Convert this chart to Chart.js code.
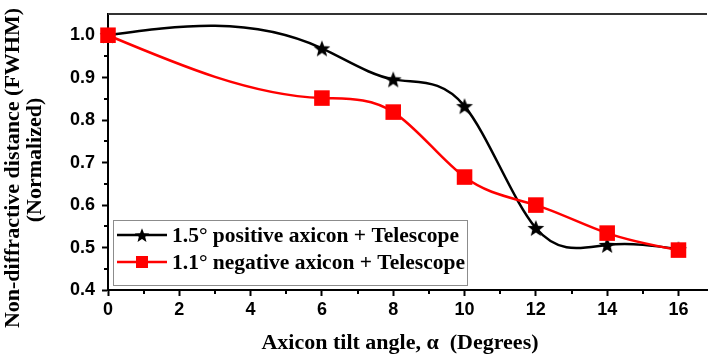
<!DOCTYPE html>
<html>
<head>
<meta charset="utf-8">
<script src="https://cdn.jsdelivr.net/npm/chart.js@4.4.1/dist/chart.umd.min.js"></script>
<style>
body { margin: 0; background: #fff; }
</style>
</head>
<body>
<canvas id="chart" width="718" height="360"></canvas>
<script>
// tilt angle (degrees) vs normalized non-diffractive distance
const tiltAngles = [0, 6, 8, 10, 12, 14, 16];
const positiveAxicon = [1.0, 0.969, 0.896, 0.833, 0.546, 0.506, 0.496];
const negativeAxicon = [1.0, 0.852, 0.819, 0.666, 0.600, 0.534, 0.494];
const seriesLabels = ['1.5° positive axicon + Telescope', '1.1° negative axicon + Telescope'];

const xTicks = [0, 2, 4, 6, 8, 10, 12, 14, 16];
const xMinorTicks = [1, 3, 5, 7, 9, 11, 13, 15];
const yTicks = [0.4, 0.5, 0.6, 0.7, 0.8, 0.9, 1.0];
const yMinorTicks = [0.45, 0.55, 0.65, 0.75, 0.85, 0.95];

const xTitle = 'Axicon tilt angle, \u03b1  (Degrees)';
const yTitle = ['Non-diffractive distance (FWHM)', '(Normalized)'];

const serif = "'Liberation Serif', 'Times New Roman', serif";
const sans = "'Liberation Sans', Arial, sans-serif";

// filled five-point star used as point style
function makeStar(size, outer, inner) {
    const c = document.createElement('canvas');
    c.width = size;
    c.height = size;
    const g = c.getContext('2d');
    g.beginPath();
    for (let i = 0; i < 10; i++) {
        const r = i % 2 ? inner : outer;
        const a = -Math.PI / 2 + i * Math.PI / 5;
        const px = size / 2 + r * Math.cos(a);
        const py = size / 2 + 0.8 + r * Math.sin(a);
        if (i) g.lineTo(px, py); else g.moveTo(px, py);
    }
    g.closePath();
    g.fillStyle = '#000';
    g.fill();
    return c;
}
const star = makeStar(20, 8.8, 3.8);
const smallStar = makeStar(18, 7.6, 3.3);

// natural cubic spline: slope at every knot
function splineSlopes(xs, ys) {
    const n = xs.length - 1;
    const h = [], d = [];
    for (let i = 0; i < n; i++) {
        h.push(xs[i + 1] - xs[i]);
        d.push((ys[i + 1] - ys[i]) / h[i]);
    }
    const m = new Array(n + 1).fill(0);
    const a = [], b = [], c = [], r = [];
    for (let i = 1; i < n; i++) {
        a.push(h[i - 1]);
        b.push(2 * (h[i - 1] + h[i]));
        c.push(h[i]);
        r.push(6 * (d[i] - d[i - 1]));
    }
    const k = b.length;
    for (let i = 1; i < k; i++) {
        const w = a[i] / b[i - 1];
        b[i] -= w * c[i - 1];
        r[i] -= w * r[i - 1];
    }
    for (let i = k - 1; i >= 0; i--) {
        m[i + 1] = (r[i] - c[i] * m[i + 2]) / b[i];
    }
    const s = [];
    for (let i = 0; i < n; i++) s.push(d[i] - h[i] * (2 * m[i] + m[i + 1]) / 6);
    s.push(d[n - 1] + h[n - 1] * (m[n - 1] + 2 * m[n]) / 6);
    return s;
}

const splineLines = {
    id: 'splineLines',
    beforeDatasetsDraw(chart) {
        const { ctx, scales: { x, y } } = chart;
        ctx.save();
        chart.data.datasets.forEach(ds => {
            const xs = ds.data.map(p => p.x);
            const ys = ds.data.map(p => p.y);
            const s = splineSlopes(xs, ys);
            ctx.beginPath();
            ctx.moveTo(x.getPixelForValue(xs[0]), y.getPixelForValue(ys[0]));
            for (let i = 0; i < xs.length - 1; i++) {
                const t = (xs[i + 1] - xs[i]) / 3;
                ctx.bezierCurveTo(
                    x.getPixelForValue(xs[i] + t), y.getPixelForValue(ys[i] + t * s[i]),
                    x.getPixelForValue(xs[i + 1] - t), y.getPixelForValue(ys[i + 1] - t * s[i + 1]),
                    x.getPixelForValue(xs[i + 1]), y.getPixelForValue(ys[i + 1]));
            }
            ctx.strokeStyle = ds.borderColor;
            ctx.lineWidth = 2.5;
            ctx.lineJoin = 'round';
            ctx.stroke();
        });
        ctx.restore();
    }
};

const frameAndTitles = {
    id: 'frameAndTitles',
    afterDraw(chart) {
        const { ctx, chartArea: area, scales: { x, y } } = chart;
        ctx.save();

        // top frame line
        ctx.strokeStyle = '#333';
        ctx.lineWidth = 2;
        ctx.beginPath();
        ctx.moveTo(area.left, area.top);
        ctx.lineTo(area.right, area.top);
        ctx.stroke();

        // minor ticks
        ctx.strokeStyle = '#000';
        ctx.beginPath();
        xMinorTicks.forEach(v => {
            const px = Math.round(x.getPixelForValue(v));
            ctx.moveTo(px, area.bottom);
            ctx.lineTo(px, area.bottom + 4);
        });
        yMinorTicks.forEach(v => {
            const py = Math.round(y.getPixelForValue(v));
            ctx.moveTo(area.left, py);
            ctx.lineTo(area.left - 4, py);
        });
        ctx.stroke();

        // axis titles
        ctx.fillStyle = '#000';
        ctx.font = 'bold 22px ' + serif;
        ctx.textAlign = 'center';
        ctx.textBaseline = 'middle';
        ctx.fillText(xTitle, 400, 343);
        ctx.save();
        ctx.translate(13, 168);
        ctx.rotate(-Math.PI / 2);
        ctx.fillText(yTitle[0], 0, 0);
        ctx.restore();
        ctx.save();
        ctx.translate(35, 160);
        ctx.rotate(-Math.PI / 2);
        ctx.fillText(yTitle[1], 0, 0);
        ctx.restore();

        // legend box
        const bx = 113, by = 220, bw = 354, bh = 65;
        ctx.fillStyle = '#fff';
        ctx.fillRect(bx, by, bw, bh);
        ctx.strokeStyle = '#8c8c8c';
        ctx.lineWidth = 1;
        ctx.strokeRect(bx + 0.5, by + 0.5, bw, bh);
        const rows = [235, 262];
        chart.data.datasets.forEach((ds, i) => {
            const ry = rows[i];
            ctx.strokeStyle = ds.borderColor;
            ctx.lineWidth = 2.5;
            ctx.beginPath();
            ctx.moveTo(117, ry);
            ctx.lineTo(167, ry);
            ctx.stroke();
            if (i === 0) {
                ctx.drawImage(smallStar, 142 - smallStar.width / 2, ry - smallStar.height / 2);
            } else {
                ctx.fillStyle = ds.pointBackgroundColor;
                ctx.fillRect(136, ry - 6, 12, 12);
            }
            ctx.fillStyle = '#000';
            ctx.font = 'bold 21.5px ' + serif;
            ctx.textAlign = 'left';
            ctx.textBaseline = 'middle';
            ctx.fillText(ds.label, 172, ry + 1);
        });
        ctx.restore();
    }
};

new Chart(document.getElementById('chart'), {
    type: 'scatter',
    data: {
        datasets: [{
            label: seriesLabels[0],
            data: tiltAngles.map((a, i) => ({ x: a, y: positiveAxicon[i] })),
            borderColor: '#000',
            pointStyle: star,
            pointBackgroundColor: '#000',
            showLine: false,
            order: 1,
            clip: false
        }, {
            label: seriesLabels[1],
            data: tiltAngles.map((a, i) => ({ x: a, y: negativeAxicon[i] })),
            borderColor: '#ff0000',
            pointStyle: 'rect',
            pointRadius: 11,
            pointBorderWidth: 0,
            pointBackgroundColor: '#ff0000',
            showLine: false,
            order: 0,
            clip: false
        }]
    },
    options: {
        responsive: false,
        animation: false,
        devicePixelRatio: 1,
        layout: { padding: { left: 0, right: 0, top: 14, bottom: 0 } },
        plugins: {
            legend: { display: false },
            tooltip: { enabled: false }
        },
        scales: {
            x: {
                type: 'linear',
                min: 0,
                max: 16.8,
                afterBuildTicks: s => { s.ticks = xTicks.map(v => ({ value: v })); },
                afterFit: s => { s.height = 70; s.paddingLeft = 0; s.paddingRight = 0; },
                ticks: {
                    color: '#000',
                    padding: 3,
                    maxRotation: 0,
                    font: { family: sans, size: 18, weight: 'bold' }
                },
                grid: { display: true, drawOnChartArea: false, tickLength: 6, tickWidth: 2, tickColor: '#000' },
                border: { display: true, color: '#000', width: 2 }
            },
            y: {
                min: 0.4,
                max: 1.05,
                afterBuildTicks: s => { s.ticks = yTicks.map(v => ({ value: v })); },
                afterFit: s => { s.width = 108; s.paddingTop = 0; s.paddingBottom = 0; },
                ticks: {
                    color: '#000',
                    padding: 7,
                    callback: v => v.toFixed(1),
                    font: { family: sans, size: 18, weight: 'bold' }
                },
                grid: { display: true, drawOnChartArea: false, tickLength: 6, tickWidth: 2, tickColor: '#000' },
                border: { display: true, color: '#000', width: 2 }
            }
        }
    },
    plugins: [splineLines, frameAndTitles]
});
</script>
</body>
</html>
